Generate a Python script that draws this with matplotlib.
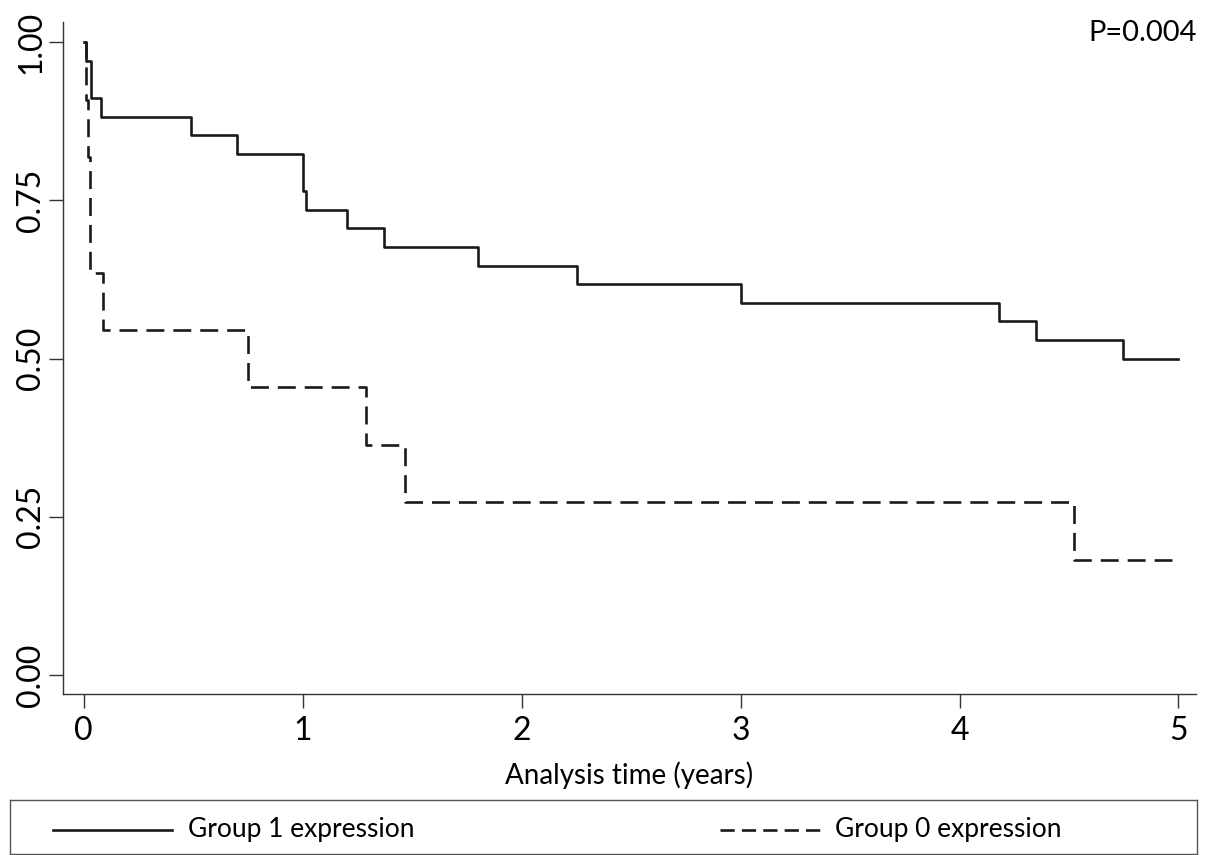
import matplotlib
matplotlib.use("Agg")
from matplotlib import pyplot as plt
from matplotlib.lines import Line2D

plt.rcParams['font.family'] = ['Lato', 'DejaVu Sans']

# Kaplan-Meier steps
group1_time = [0, 0.01, 0.035, 0.08, 0.49, 0.70, 1.0, 1.015, 1.205, 1.37,
               1.80, 2.255, 3.0, 4.18, 4.35, 4.745, 5.0]
group1_surv = [1.0, 0.971, 0.912, 0.882, 0.853, 0.824, 0.765, 0.735, 0.706,
               0.676, 0.647, 0.618, 0.588, 0.559, 0.529, 0.500, 0.500]

group0_time = [0, 0.012, 0.02, 0.03, 0.09, 0.75, 1.29, 1.466, 4.525, 4.97]
group0_surv = [1.0, 0.909, 0.818, 0.636, 0.545, 0.455, 0.364, 0.273, 0.182,
               0.182]

x_ticks = [0, 1, 2, 3, 4, 5]
y_ticks = [0.0, 0.25, 0.5, 0.75, 1.0]
y_tick_labels = ['0.00', '0.25', '0.50', '0.75', '1.00']
series_labels = ['Group 1 expression', 'Group 0 expression']
p_text = 'P=0.004'

W, H = 1205, 855
fig = plt.figure(figsize=(W / 100, H / 100), dpi=100)
ax = fig.add_axes([63 / W, 1 - 694 / H, (1196 - 63) / W, (694 - 22) / H])

lw = 1.9
dash = (6.8, 3.4)
ax.step(group1_time, group1_surv, where='post', color='#1a1a1a', lw=lw)
ax.step(group0_time, group0_surv, where='post', color='#1a1a1a', lw=lw,
        linestyle=(0, dash))

ax.set_xlim(-0.094, 5.08)
ax.set_ylim(-0.030, 1.032)
ax.set_xticks(x_ticks)
ax.set_yticks(y_ticks)
ax.set_yticklabels(y_tick_labels, rotation=90, va='center')
ax.tick_params(axis='both', labelsize=23, width=1, color='#333333',
               length=10)
ax.tick_params(axis='x', pad=6)
ax.tick_params(axis='y', pad=2)
for s in ['top', 'right']:
    ax.spines[s].set_visible(False)
for s in ['left', 'bottom']:
    ax.spines[s].set_linewidth(1)
    ax.spines[s].set_color('#333333')
ax.set_xlabel('Analysis time (years)', fontsize=20, labelpad=11)

fig.text(1197 / W, 1 - 33 / H, p_text, ha='right', va='center', fontsize=21)

# legend box along the bottom edge
lax = fig.add_axes([10 / W, 1 / H, (1197 - 10) / W, (799 - 1) / H - 744 / H])
lax.set_xlim(10, 1197)
lax.set_ylim(0, 1)
lax.set_xticks([])
lax.set_yticks([])
for s in lax.spines.values():
    s.set_linewidth(1)
    s.set_color('#555555')
lax.add_line(Line2D([53, 172], [0.45, 0.45], color='#1a1a1a', lw=lw))
lax.text(188, 0.45, series_labels[0], va='center', fontsize=19)
lax.add_line(Line2D([720, 822], [0.45, 0.45], color='#1a1a1a', lw=lw,
                    linestyle=(0, (5.4, 2.7))))
lax.text(835, 0.45, series_labels[1], va='center', fontsize=19)

fig.savefig('out.png', dpi=100)
